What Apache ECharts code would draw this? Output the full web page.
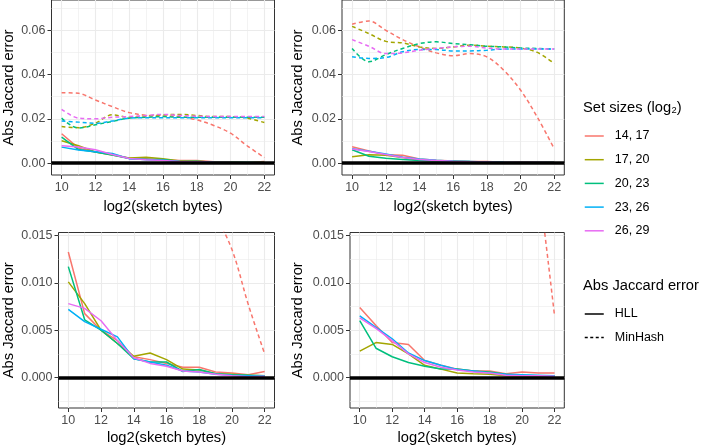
<!DOCTYPE html>
<html>
<head>
<meta charset="utf-8">
<script src="https://cdn.jsdelivr.net/npm/echarts@6/dist/echarts.min.js"></script>
<style>
html, body { margin: 0; padding: 0; background: #fff; }
#chart { width: 706px; height: 448px; }
</style>
</head>
<body>
<div id="chart"></div>
<script>
// x values: log2(sketch bytes)
var sketchLog2 = [10, 11, 12, 13, 14, 15, 16, 17, 18, 19, 20, 21, 22];
var setSizes = ['14, 17', '17, 20', '20, 23', '23, 26', '26, 29'];
var methods = ['HLL', 'MinHash'];

// tick labels
var xTicks = [10, 12, 14, 16, 18, 20, 22];
var xMinorTicks = [11, 13, 15, 17, 19, 21];
var yTicksTop = [0, 0.02, 0.04, 0.06];
var yMinorTop = [0.01, 0.03, 0.05, 0.07];
var yTicksBottom = [0, 0.005, 0.01, 0.015];
var yMinorBottom = [-0.0025, 0.0025, 0.0075, 0.0125];

// left column, one row per set size
var hllLeft = [
    [0.01325, 0.00675, 0.0050, 0.0039, 0.0022, 0.0019, 0.0015, 0.0011, 0.0011, 0.0006, 0.0005, 0.0003, 0.00065],
    [0.0101, 0.0078, 0.0050, 0.0036, 0.00225, 0.0026, 0.0019, 0.0009, 0.0008, 0.0004, 0.00035, 0.00025, 0.0002],
    [0.0117, 0.0061, 0.0050, 0.0036, 0.0020, 0.00165, 0.00165, 0.00065, 0.00085, 0.0004, 0.0003, 0.00025, 0.0002],
    [0.0072, 0.0059, 0.0051, 0.0043, 0.0020, 0.00165, 0.0013, 0.0007, 0.0006, 0.00035, 0.00025, 0.0002, 0.00015],
    [0.0078, 0.0073, 0.0060, 0.0039, 0.0021, 0.0015, 0.0012, 0.0007, 0.0006, 0.00035, 0.0002, 0.0001, 0.00015]
];
var minhashLeft = [
    [0.0318, 0.0315, 0.0285, 0.0255, 0.0228, 0.0216, 0.0213, 0.0210, 0.0195, 0.0170, 0.0135, 0.0077, 0.0025],
    [0.0165, 0.0160, 0.0180, 0.0218, 0.0207, 0.0213, 0.0218, 0.0220, 0.0215, 0.0210, 0.0210, 0.0203, 0.0183],
    [0.0203, 0.0158, 0.0173, 0.0188, 0.0203, 0.0207, 0.0210, 0.0207, 0.0207, 0.0207, 0.0207, 0.0207, 0.0207],
    [0.0190, 0.0185, 0.0180, 0.0190, 0.0203, 0.0205, 0.0205, 0.0205, 0.0205, 0.0205, 0.0205, 0.0205, 0.0205],
    [0.0243, 0.0203, 0.0200, 0.0207, 0.0210, 0.0215, 0.0220, 0.0215, 0.0212, 0.0210, 0.0210, 0.0210, 0.0210]
];
// right column
var hllRight = [
    [0.0074, 0.0055, 0.0037, 0.0035, 0.0018, 0.0013, 0.0009, 0.0007, 0.0007, 0.0004, 0.0006, 0.0005, 0.0005],
    [0.0028, 0.0037, 0.0035, 0.0025, 0.0013, 0.0009, 0.0005, 0.0004, 0.00035, 0.0002, 0.00015, 0.00015, 0.00015],
    [0.0060, 0.0031, 0.0022, 0.0016, 0.0012, 0.0009, 0.0009, 0.0007, 0.0006, 0.00035, 0.00025, 0.0002, 0.0002],
    [0.0065, 0.0053, 0.0041, 0.0026, 0.0018, 0.0013, 0.00085, 0.0007, 0.0005, 0.00035, 0.0003, 0.00025, 0.0002],
    [0.0063, 0.0052, 0.0039, 0.0025, 0.0016, 0.0011, 0.0008, 0.0006, 0.0005, 0.00025, 0.0002, 0.0002, 0.00015]
];
var minhashRight = [
    [0.0627, 0.0642, 0.0600, 0.0558, 0.0525, 0.0498, 0.0485, 0.0495, 0.0480, 0.0420, 0.0330, 0.0207, 0.0065],
    [0.0618, 0.0585, 0.0550, 0.0543, 0.0525, 0.0518, 0.0525, 0.0533, 0.0528, 0.0525, 0.0520, 0.0500, 0.0450],
    [0.0518, 0.0458, 0.0490, 0.0518, 0.0540, 0.0548, 0.0540, 0.0535, 0.0528, 0.0525, 0.0520, 0.0518, 0.0515],
    [0.0480, 0.0473, 0.0477, 0.0503, 0.0513, 0.0513, 0.0507, 0.0507, 0.0510, 0.0515, 0.0515, 0.0515, 0.0515],
    [0.0558, 0.0528, 0.0495, 0.0498, 0.0510, 0.0518, 0.0525, 0.0528, 0.0520, 0.0515, 0.0515, 0.0515, 0.0515]
];

var palette = ['#F8766D', '#A3A500', '#00BF7D', '#00B0F6', '#E76BF3'];
var FONT = '"Liberation Sans", Arial, Helvetica, sans-serif';

// panel layout: top row full range, bottom row zoomed in
var panels = [
    { left: 51.5, top: 0, width: 223, height: 175, ymin: -0.0054, ymax: 0.0737, ticks: yTicksTop, minor: yMinorTop, digits: 2, hll: hllLeft, mh: minhashLeft, yGap: 35, xGap: 24 },
    { left: 342, top: 0, width: 222.3, height: 175, ymin: -0.0054, ymax: 0.0737, ticks: yTicksTop, minor: yMinorTop, digits: 2, hll: hllRight, mh: minhashRight, yGap: 36.5, xGap: 24 },
    { left: 58.5, top: 232.5, width: 216, height: 175.5, ymin: -0.0032, ymax: 0.0153, ticks: yTicksBottom, minor: yMinorBottom, digits: 3, hll: hllLeft, mh: minhashLeft, yGap: 42.5, xGap: 22.5 },
    { left: 350, top: 232.5, width: 214.3, height: 175.5, ymin: -0.0032, ymax: 0.0153, ticks: yTicksBottom, minor: yMinorBottom, digits: 3, hll: hllRight, mh: minhashRight, yGap: 44.5, xGap: 22.5 }
];

var grids = [], xAxes = [], yAxes = [], series = [];

panels.forEach(function(p, pi) {
    grids.push({
        left: p.left, top: p.top, width: p.width, height: p.height,
        show: true, borderColor: '#333333', borderWidth: 1, backgroundColor: '#fff'
    });
    // minor grid axes first so major lines sit above them
    xAxes.push({
        gridIndex: pi, type: 'value', min: 9.4, max: 22.6,
        axisLine: { show: false, onZero: false }, axisLabel: { show: false },
        axisTick: { show: false, customValues: xMinorTicks },
        splitLine: { show: true, lineStyle: { color: '#ebebeb', width: 0.6 } }
    });
    xAxes.push({
        gridIndex: pi, type: 'value', min: 9.4, max: 22.6, position: 'bottom',
        name: 'log2(sketch bytes)', nameLocation: 'middle', nameGap: p.xGap,
        nameTextStyle: { fontFamily: FONT, fontSize: 14.7, color: '#000' },
        axisLine: { show: false, onZero: false },
        axisTick: { show: true, length: 4, customValues: xTicks, lineStyle: { color: '#333333', width: 1 } },
        axisLabel: { customValues: xTicks, color: '#4d4d4d', fontFamily: FONT, fontSize: 12.5, margin: 6 },
        splitLine: { show: true, lineStyle: { color: '#ebebeb', width: 1.1 } }
    });
    yAxes.push({
        gridIndex: pi, type: 'value', min: p.ymin, max: p.ymax,
        axisLine: { show: false, onZero: false }, axisLabel: { show: false },
        axisTick: { show: false, customValues: p.minor },
        splitLine: { show: true, lineStyle: { color: '#ebebeb', width: 0.6 } }
    });
    yAxes.push({
        gridIndex: pi, type: 'value', min: p.ymin, max: p.ymax, position: 'left',
        name: 'Abs Jaccard error', nameLocation: 'middle', nameGap: p.yGap,
        nameTextStyle: { fontFamily: FONT, fontSize: 14.7, color: '#000' },
        axisLine: { show: false, onZero: false },
        axisTick: { show: true, length: 4, customValues: p.ticks, lineStyle: { color: '#333333', width: 1 } },
        axisLabel: {
            customValues: p.ticks, color: '#4d4d4d', fontFamily: FONT, fontSize: 12.5, margin: 6,
            formatter: (function(d) { return function(v) { return v.toFixed(d); }; })(p.digits)
        },
        splitLine: { show: true, lineStyle: { color: '#ebebeb', width: 1.1 } }
    });

    var xi = pi * 2 + 1, yi = pi * 2 + 1;
    // horizontal reference line at zero
    series.push({
        type: 'line', xAxisIndex: xi, yAxisIndex: yi, data: [], z: 1, silent: true,
        markLine: {
            silent: true, symbol: 'none', label: { show: false },
            lineStyle: { color: '#000', width: 3.5, type: 'solid' },
            data: [{ yAxis: 0 }]
        }
    });
    setSizes.forEach(function(name, k) {
        series.push({
            name: name, type: 'line', xAxisIndex: xi, yAxisIndex: yi, z: 2,
            symbol: 'none', clip: true, color: palette[k],
            lineStyle: { width: 1.5, color: palette[k], type: 'solid' },
            data: sketchLog2.map(function(x, i) { return [x, p.hll[k][i]]; })
        });
    });
    setSizes.forEach(function(name, k) {
        series.push({
            name: name, type: 'line', xAxisIndex: xi, yAxisIndex: yi, z: 2,
            symbol: 'none', clip: true, smooth: 0.35, color: palette[k],
            lineStyle: { width: 1.5, color: palette[k], type: [4, 3] },
            data: sketchLog2.map(function(x, i) { return [x, p.mh[k][i]]; })
        });
    });
});

// empty series that only feed the line-type legend
series.push({ name: 'HLL', type: 'line', xAxisIndex: 1, yAxisIndex: 1, data: [], symbol: 'none', color: '#000', lineStyle: { width: 1.5, color: '#000', type: 'solid' } });
series.push({ name: 'MinHash', type: 'line', xAxisIndex: 1, yAxisIndex: 1, data: [], symbol: 'none', color: '#000', lineStyle: { width: 1.5, color: '#000', type: [3, 2.5] } });

var legendBase = {
    orient: 'vertical', left: 584, padding: 0,
    itemWidth: 19, itemHeight: 14, selectedMode: false,
    itemStyle: { opacity: 0, borderWidth: 0 },
    lineStyle: { width: 1.5 },
    textStyle: { fontFamily: FONT, fontSize: 12.5, color: '#000', padding: [0, 0, 0, 6] }
};

var chart = echarts.init(document.getElementById('chart'), null, { renderer: 'canvas' });
chart.setOption({
    animation: false,
    backgroundColor: '#fff',
    textStyle: { fontFamily: FONT },
    title: [
        { text: 'Set sizes (log\u2082)', left: 583, top: 99, padding: 0,
          textStyle: { fontFamily: FONT, fontSize: 14.7, fontWeight: 'normal', color: '#000', lineHeight: 17 } },
        { text: 'Abs Jaccard error', left: 583, top: 277.5, padding: 0,
          textStyle: { fontFamily: FONT, fontSize: 14.7, fontWeight: 'normal', color: '#000', lineHeight: 17 } }
    ],
    legend: [
        Object.assign({}, legendBase, { data: setSizes, top: 129.5, itemGap: 10.7 }),
        Object.assign({}, legendBase, { data: methods, top: 307.5, itemGap: 10.5 })
    ],
    grid: grids,
    xAxis: xAxes,
    yAxis: yAxes,
    series: series
});
</script>
</body>
</html>
